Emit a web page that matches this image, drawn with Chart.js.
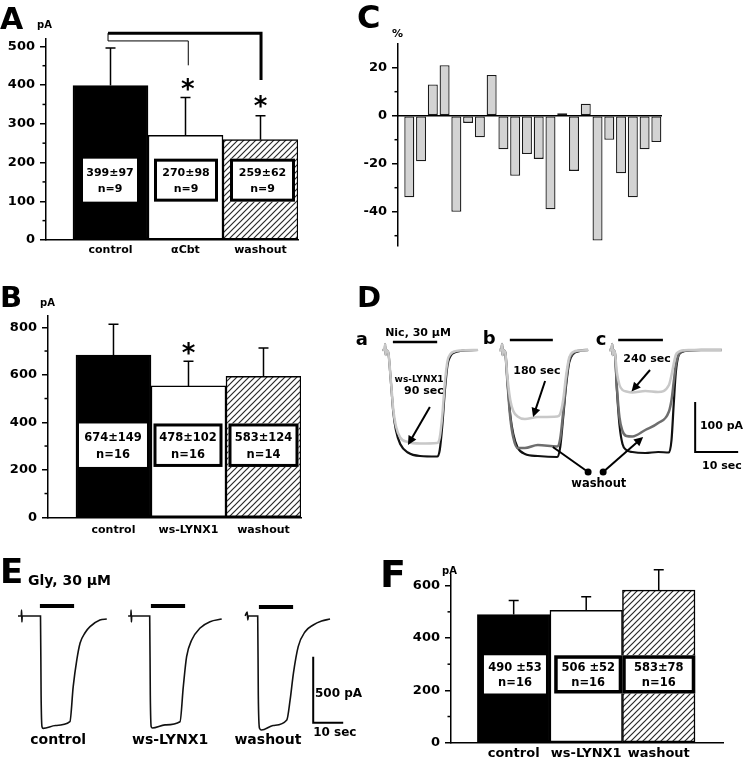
<!DOCTYPE html>
<html><head><meta charset="utf-8">
<script src="https://cdn.jsdelivr.net/npm/chart.js@4.4.1/dist/chart.umd.min.js"></script>
<style>
html,body{margin:0;padding:0;background:#fff;}
#fig{position:relative;width:745px;height:761px;overflow:hidden;background:#fff;}
canvas{position:absolute;}
.t{position:absolute;font-family:'DejaVu Sans',sans-serif;font-weight:bold;line-height:1;white-space:nowrap;color:#000;}
</style></head><body><div id="fig"></div>
<script>
// ---------------- DATA ----------------
// Panel A
const groupsA = ['control', 'αCbt', 'washout'];
const meansA = [399, 270, 259];
const errA = [97, 98, 62];
const boxTopA = ['399±97', '270±98', '259±62'];
const boxBotA = ['n=9', 'n=9', 'n=9'];
const ticksA = [0, 100, 200, 300, 400, 500];
const minorA = [50, 150, 250, 350, 450];

// Panel B
const groupsB = ['control', 'ws-LYNX1', 'washout'];
const meansB = [683, 553, 594];
const errB = [130, 104, 119];
const boxTopB = ['674±149', '478±102', '583±124'];
const boxBotB = ['n=16', 'n=16', 'n=14'];
const ticksB = [0, 200, 400, 600, 800];
const minorB = [100, 300, 500, 700];

// Panel C
const cellsC = [1,2,3,4,5,6,7,8,9,10,11,12,13,14,15,16,17,18,19,20,21,22];
const changeC = [-34, -19, 13, 21, -40, -3, -9, 17, -14, -25, -16, -18, -39, 1, -23, 5, -52, -10, -24, -34, -14, -11];
const ticksC = [20, 0, -20, -40];
const minorC = [10, -10, -30, -50];

// Panel F
const groupsF = ['control', 'ws-LYNX1', 'washout'];
const meansF = [490, 506, 583];
const errF = [53, 52, 78];
const boxTopF = ['490 ±53', '506 ±52', '583±78'];
const boxBotF = ['n=16', 'n=16', 'n=16'];
const ticksF = [0, 200, 400, 600];
const minorF = [100, 300, 500];

// Panel D traces (time, s ; current, pA)
const tDa = [9.8, 10.4, 10.5, 10.6, 10.7, 11.2, 11.8, 12.4, 13.0, 14.0, 15.8, 18.6, 22.6, 23.2, 23.8, 24.4, 25.0, 25.7, 26.6, 28.0, 32.1];
const iDaBlack = [0, 0, 12, -10, 0, -4, -60, -125, -160, -188, -205, -212, -213, -200, -150, -80, -30, -12, -5, -2, 0];
const iDaLight = [0, 0, 12, -10, 0, -4, -58, -120, -152, -175, -184, -187, -186, -175, -130, -65, -22, -8, -3, -1, 0];

const tDb = [37.0, 37.6, 37.7, 37.8, 37.9, 38.4, 39.0, 39.6, 40.3, 41.3, 43.0, 46.0, 50.5, 51.2, 51.9, 52.6, 53.3, 54.2, 55.8, 57.7];
const iDbBlack = [0, 0, 12, -10, 0, -4, -70, -130, -168, -195, -208, -212, -214, -195, -135, -70, -25, -8, -2, 0];
const iDbDark = [0, 0, 12, -10, 0, -4, -72, -135, -175, -196, -196, -190, -193, -178, -125, -62, -20, -6, -1, 0];
const iDbLight = [0, 0, 12, -10, 0, -4, -60, -100, -122, -133, -138, -134, -133, -128, -100, -50, -15, -4, -1, 0];

const tDc = [62.6, 63.2, 63.3, 63.4, 63.5, 63.9, 64.4, 65.0, 65.7, 66.6, 68.0, 71.0, 74.0, 76.5, 77.1, 77.6, 78.1, 78.7, 79.5, 81.0, 84.0, 88.8];
const iDcBlack = [0, 0, 12, -10, 0, -4, -80, -150, -188, -200, -204, -206, -204, -205, -180, -110, -45, -12, -4, -1, 0, 0];
const iDcDark = [0, 0, 12, -10, 0, -4, -75, -135, -162, -172, -173, -160, -146, -123, -100, -65, -30, -10, -3, -1, 0, 0];
const iDcLight = [0, 0, 12, -10, 0, -4, -45, -70, -80, -83, -85, -82, -84, -70, -50, -28, -10, -4, -1, 0, 0, 0];

// Panel E traces (time, s ; current, pA)
const tE1 = [6.0, 7.1, 7.2, 7.3, 7.4, 13.5, 13.7, 14.0, 14.4, 18.5, 23.3, 24.4, 25.6, 26.7, 28.3, 30.0, 33.3, 35.6];
const iE1 = [0, 0, 45, -45, 0, 0, -600, -839, -851, -830, -801, -535, -333, -205, -129, -81, -30, -23];
const tE2 = [42.7, 43.6, 43.7, 43.8, 43.9, 49.9, 50.1, 50.4, 50.8, 55.0, 60.0, 61.1, 62.2, 63.9, 66.7, 70.0, 73.9];
const iE2 = [0, 0, 45, -45, 0, 0, -600, -839, -848, -825, -801, -535, -308, -182, -91, -43, -23];
const tE3 = [81.7, 82.4, 82.6, 82.8, 85.9, 86.1, 86.5, 87.2, 91.0, 95.6, 96.7, 97.8, 99.4, 101.7, 104.4, 107.2, 110.0];
const iE3 = [0, 30, -30, 0, 0, -600, -850, -864, -830, -788, -636, -434, -232, -119, -68, -38, -23];

// ---------------- HELPERS ----------------
const FONT = "'DejaVu Sans', 'Liberation Sans', sans-serif";
const fig = document.getElementById('fig');

function makeCanvas(left, top, w, h) {
  const c = document.createElement('canvas');
  c.width = w; c.height = h;
  c.style.left = left + 'px'; c.style.top = top + 'px';
  c.style.width = w + 'px'; c.style.height = h + 'px';
  fig.appendChild(c);
  return c;
}
function label(text, x, baseline, size, align) {
  const d = document.createElement('div');
  d.className = 't';
  d.textContent = text;
  d.style.fontSize = size + 'px';
  d.style.top = (baseline - 0.846 * size) + 'px';
  d.style.left = x + 'px';
  if (align === 'center') d.style.transform = 'translateX(-50%)';
  fig.appendChild(d);
}
function hatchPattern() {
  const p = document.createElement('canvas'); p.width = 6; p.height = 6;
  const g = p.getContext('2d');
  g.fillStyle = '#fff'; g.fillRect(0, 0, 6, 6);
  g.strokeStyle = '#2a2a2a'; g.lineWidth = 1.2;
  g.beginPath();
  g.moveTo(0, 6); g.lineTo(6, 0);
  g.moveTo(-3, 3); g.lineTo(3, -3);
  g.moveTo(3, 9); g.lineTo(9, 3);
  g.stroke();
  return g.createPattern(p, 'repeat');
}
const HATCH = hatchPattern();

function extrasPlugin(o) {
  return {
    id: 'extras',
    afterDraw(chart) {
      const ctx = chart.ctx, X = chart.scales.x, Y = chart.scales.y;
      const px = v => X.getPixelForValue(v), py = v => Y.getPixelForValue(v);
      const area = chart.chartArea;
      ctx.save();
      ctx.strokeStyle = '#000'; ctx.fillStyle = '#000';
      ctx.lineWidth = 1.5;
      (o.minor || []).forEach(v => {
        const y = py(v);
        ctx.beginPath(); ctx.moveTo(area.left - 3.5, y); ctx.lineTo(area.left, y); ctx.stroke();
      });
      if (o.zeroLine) {
        ctx.lineWidth = 1.5;
        ctx.beginPath(); ctx.moveTo(area.left, py(0)); ctx.lineTo(area.right, py(0)); ctx.stroke();
      }
      const meta = chart.getDatasetMeta(0);
      if (o.err) {
        ctx.lineWidth = 1.5;
        meta.data.forEach((el, i) => {
          const top = py(o.values[i] + o.err[i]);
          ctx.beginPath();
          ctx.moveTo(el.x, el.y); ctx.lineTo(el.x, top);
          ctx.moveTo(el.x - 5, top); ctx.lineTo(el.x + 5, top);
          ctx.stroke();
        });
      }
      if (o.boxTop) {
        meta.data.forEach((el, i) => {
          const cx = el.x + o.boxDx[i], w = o.boxW[i];
          const y1 = py(o.boxHi), y2 = py(o.boxLo);
          ctx.fillStyle = '#fff';
          ctx.fillRect(cx - w / 2, y1, w, y2 - y1);
          if (o.boxBorder[i] > 0) {
            const b = o.boxBorder[i];
            ctx.lineWidth = b; ctx.strokeStyle = '#000';
            ctx.strokeRect(cx - w / 2 + b / 2, y1 + b / 2, w - b, y2 - y1 - b);
          }
          ctx.fillStyle = '#000';
          ctx.font = 'bold ' + o.boxFont + 'px ' + FONT;
          ctx.textAlign = 'center'; ctx.textBaseline = 'middle';
          ctx.fillText(o.boxTop[i], cx, y1 + (y2 - y1) * 0.33);
          ctx.fillText(o.boxBot[i], cx, y1 + (y2 - y1) * 0.72);
        });
      }
      (o.brackets || []).forEach(br => {
        ctx.lineWidth = br.lw; ctx.strokeStyle = '#000';
        ctx.beginPath();
        br.pts.forEach((p, k) => { if (k === 0) ctx.moveTo(px(p[0]), py(p[1])); else ctx.lineTo(px(p[0]), py(p[1])); });
        ctx.stroke();
      });
      (o.stars || []).forEach(s => {
        ctx.fillStyle = '#000';
        ctx.font = 'bold 26px ' + FONT;
        ctx.textAlign = 'center'; ctx.textBaseline = 'alphabetic';
        ctx.fillText('*', px(s[0]), py(s[1]) + 0.575 * 26);
      });
      ctx.restore();
    }
  };
}

function barPanel(o) {
  const c = makeCanvas(o.left, o.top, o.w, o.h);
  return new Chart(c, {
    type: 'bar',
    data: {
      datasets: [{
        data: o.values.map((v, i) => ({ x: o.xs[i], y: v })),
        backgroundColor: o.colors,
        borderColor: o.borderColor || '#000',
        borderWidth: o.bw,
        borderSkipped: false,
        barPercentage: o.barPct,
        categoryPercentage: 1
      }]
    },
    options: {
      responsive: false, animation: false, events: [], devicePixelRatio: 1,
      layout: { padding: { top: o.padTop, right: o.padRight, bottom: o.padBottom || 0, left: 0 } },
      plugins: { legend: { display: false }, tooltip: { enabled: false } },
      scales: {
        x: {
          type: 'linear', min: o.xMin, max: o.xMax, display: o.xDisplay, offset: false,
          afterBuildTicks: s => { s.ticks = o.xs.map(v => ({ value: v })); },
          afterFit: s => { s.height = o.xAxisH; },
          grid: { display: true, drawOnChartArea: false, drawTicks: false, offset: false },
          border: { display: true, color: '#000', width: 1.5 },
          ticks: {
            callback: (v, idx) => o.xLabels ? o.xLabels[idx] : '',
            font: { family: FONT, weight: 'bold', size: o.xFont || 11 },
            color: '#000', padding: o.xPad || 4, maxRotation: 0, minRotation: 0, autoSkip: false
          }
        },
        y: {
          type: 'linear', min: o.yMin, max: o.yMax,
          afterBuildTicks: s => { s.ticks = o.yTicks.map(v => ({ value: v })); },
          afterFit: s => { s.width = o.axisW; },
          grid: { display: true, drawOnChartArea: false, drawTicks: true, tickLength: 6, color: '#000', lineWidth: 1.5 },
          border: { display: true, color: '#000', width: 1.5 },
          ticks: { font: { family: FONT, weight: 'bold', size: 13 }, color: '#000', padding: 5 }
        }
      }
    },
    plugins: [extrasPlugin(o.extras)]
  });
}

function notesPlugin(n) {
  return {
    id: 'notes',
    afterDatasetsDraw(chart) {
      const ctx = chart.ctx, X = chart.scales.x, Y = chart.scales.y;
      const px = v => X.getPixelForValue(v), py = v => Y.getPixelForValue(v);
      ctx.save();
      ctx.strokeStyle = '#000'; ctx.fillStyle = '#000'; ctx.lineCap = 'butt';
      ctx.lineWidth = n.barW;
      n.bars.forEach(([a, b, y]) => { ctx.beginPath(); ctx.moveTo(px(a), py(y)); ctx.lineTo(px(b), py(y)); ctx.stroke(); });
      const [sx, sy1, sy2, sx2] = n.scale;
      ctx.lineWidth = 2;
      ctx.beginPath(); ctx.moveTo(px(sx), py(sy1)); ctx.lineTo(px(sx), py(sy2)); ctx.lineTo(px(sx2), py(sy2)); ctx.stroke();
      (n.lines || []).forEach(([x1, y1, x2, y2]) => {
        ctx.lineWidth = 2; ctx.beginPath(); ctx.moveTo(px(x1), py(y1)); ctx.lineTo(px(x2), py(y2)); ctx.stroke();
      });
      (n.arrows || []).forEach(([x1, y1, x2, y2]) => {
        const a = px(x1), b = py(y1), c = px(x2), d = py(y2);
        const ang = Math.atan2(d - b, c - a), L = 9, W = 4.5;
        ctx.lineWidth = 2;
        ctx.beginPath(); ctx.moveTo(a, b); ctx.lineTo(c - L * 0.6 * Math.cos(ang), d - L * 0.6 * Math.sin(ang)); ctx.stroke();
        ctx.beginPath();
        ctx.moveTo(c, d);
        ctx.lineTo(c - L * Math.cos(ang) + W * Math.sin(ang), d - L * Math.sin(ang) - W * Math.cos(ang));
        ctx.lineTo(c - L * Math.cos(ang) - W * Math.sin(ang), d - L * Math.sin(ang) + W * Math.cos(ang));
        ctx.closePath(); ctx.fill();
      });
      (n.dots || []).forEach(([x, y]) => { ctx.beginPath(); ctx.arc(px(x), py(y), 3.5, 0, Math.PI * 2); ctx.fill(); });
      (n.texts || []).forEach(([s, x, y, size, align]) => {
        ctx.font = 'bold ' + size + 'px ' + FONT;
        ctx.textAlign = align; ctx.textBaseline = 'middle';
        ctx.fillText(s, px(x), py(y));
      });
      ctx.restore();
    }
  };
}

function traceChart(o) {
  const c = makeCanvas(o.left, o.top, o.w, o.h);
  return new Chart(c, {
    type: 'scatter',
    data: {
      datasets: o.sets.map(s => ({
        data: s.t.map((x, i) => ({ x: x, y: s.i[i] })),
        showLine: true, borderColor: s.color, borderWidth: s.lw, pointRadius: 0,
        cubicInterpolationMode: 'monotone', fill: false
      }))
    },
    options: {
      responsive: false, animation: false, events: [], devicePixelRatio: 1,
      layout: { padding: 0 },
      plugins: { legend: { display: false }, tooltip: { enabled: false } },
      scales: {
        x: { type: 'linear', display: false, min: o.xMin, max: o.xMax },
        y: { type: 'linear', display: false, min: o.yMin, max: o.yMax }
      }
    },
    plugins: [notesPlugin(o.notes)]
  });
}

// ---------------- PANEL A ----------------
barPanel({
  left: 0, top: 0, w: 310, h: 262, axisW: 46, padTop: 38.6, padRight: 12, xAxisH: 22,
  xMin: 0.14, xMax: 3.5, yMin: 0, yMax: 520, yTicks: ticksA,
  xs: [1, 2, 3], xLabels: groupsA, xFont: 11, xPad: 4, xDisplay: true,
  values: meansA, colors: ['#000', '#fff', HATCH], bw: 1.5, barPct: 1,
  extras: {
    minor: minorA, values: meansA, err: errA,
    boxTop: boxTopA, boxBot: boxBotA, boxLo: 99, boxHi: 210, boxW: [54, 64, 65], boxDx: [-0.5, 0.5, 2], boxBorder: [0, 3, 3], boxFont: 11,
    brackets: [
      { lw: 3, pts: [[0.967, 534], [3.007, 534], [3.007, 413]] },
      { lw: 1, pts: [[0.967, 534], [0.967, 514], [2.037, 514], [2.037, 451]] }
    ],
    stars: [[2.03, 405], [3.0, 361]]
  }
});

// ---------------- PANEL B ----------------
barPanel({
  left: 0, top: 290, w: 310, h: 255, axisW: 48, padTop: 25.4, padRight: 9, xAxisH: 27.7,
  xMin: 0.127, xMax: 3.5, yMin: 0, yMax: 850, yTicks: ticksB,
  xs: [1, 2, 3], xLabels: groupsB, xFont: 11, xPad: 6, xDisplay: true,
  values: meansB, colors: ['#000', '#fff', HATCH], bw: 1.5, barPct: 1,
  extras: {
    minor: minorB, values: meansB, err: errB,
    boxTop: boxTopB, boxBot: boxBotB, boxLo: 212, boxHi: 395, boxW: [68, 69, 70], boxDx: [-0.5, -0.5, 0], boxBorder: [0, 3, 3], boxFont: 11.5,
    stars: [[2.0, 717]]
  }
});

// ---------------- PANEL C ----------------
barPanel({
  left: 330, top: 20, w: 345, h: 240, axisW: 68, padTop: 23.7, padRight: 13, padBottom: 14.7, xAxisH: 0,
  xMin: 0.04, xMax: 22.48, yMin: -54, yMax: 30, yTicks: ticksC,
  xs: cellsC, xLabels: null, xDisplay: false,
  values: changeC, colors: '#d3d3d3', borderColor: '#1a1a1a', bw: 1.3, barPct: 0.85,
  extras: { minor: minorC, zeroLine: true }
});

// ---------------- PANEL F ----------------
barPanel({
  left: 380, top: 560, w: 355, h: 201, axisW: 71, padTop: 15.2, padRight: 12, xAxisH: 18.3,
  xMin: 0.136, xMax: 3.886, yMin: 0, yMax: 640, yTicks: ticksF,
  xs: [1, 2, 3], xLabels: groupsF, xFont: 13, xPad: 3, xDisplay: true,
  values: meansF, colors: ['#000', '#fff', HATCH], bw: 1.5, barPct: 1,
  extras: {
    minor: minorF, values: meansF, err: errF,
    boxTop: boxTopF, boxBot: boxBotF, boxLo: 188, boxHi: 334, boxW: [62, 68, 73], boxDx: [1.3, 2, 0], boxBorder: [0, 3.5, 3.5], boxFont: 11.5
  }
});

// ---------------- PANEL D ----------------
const LIGHT = '#c8c8c8', DARK = '#6e6e6e', BLK = '#111';
traceChart({
  left: 340, top: 280, w: 405, h: 240, xMin: 0, xMax: 94.19, yMin: -340, yMax: 140,
  sets: [
    { t: tDa, i: iDaLight, color: LIGHT, lw: 2.5 },
    { t: tDb, i: iDbLight, color: LIGHT, lw: 2.5 },
    { t: tDc, i: iDcLight, color: LIGHT, lw: 2.5 },
    { t: tDb, i: iDbDark, color: DARK, lw: 2.5 },
    { t: tDc, i: iDcDark, color: DARK, lw: 2.5 },
    { t: tDa, i: iDaBlack, color: BLK, lw: 2.2 },
    { t: tDb, i: iDbBlack, color: BLK, lw: 2.2 },
    { t: tDc, i: iDcBlack, color: BLK, lw: 2.2 }
  ],
  notes: {
    barW: 2.5,
    bars: [[12.3, 22.6, 16], [39.5, 49.5, 20], [64.7, 75.1, 20]],
    scale: [82.6, -104, -204, 92.6],
    lines: [[57.7, -244, 49.5, -194]],
    arrows: [[20.9, -114, 15.8, -190], [47.7, -62, 44.9, -134], [72.1, -40, 67.8, -83], [61.2, -244, 70.5, -174]],
    dots: [[57.7, -244], [61.2, -244]],
    texts: [
      ['a', 5.1, 20, 18, 'center'],
      ['b', 34.7, 22, 18, 'center'],
      ['c', 60.7, 20, 18, 'center'],
      ['Nic, 30 µM', 10.5, 34, 11, 'left'],
      ['ws-LYNX1', 18.4, -59, 9, 'center'],
      ['90 sec', 19.5, -82, 11, 'center'],
      ['180 sec', 45.8, -42, 11, 'center'],
      ['240 sec', 71.4, -18, 11, 'center'],
      ['100 pA', 83.7, -152, 11, 'left'],
      ['10 sec', 84.2, -232, 11, 'left'],
      ['washout', 60.2, -268, 11.5, 'center']
    ]
  }
});

// ---------------- PANEL E ----------------
traceChart({
  left: 0, top: 560, w: 370, h: 201, xMin: 0, xMax: 123.33, yMin: -1098.5, yMax: 424.2,
  sets: [
    { t: tE1, i: iE1, color: BLK, lw: 1.6 },
    { t: tE2, i: iE2, color: BLK, lw: 1.6 },
    { t: tE3, i: iE3, color: BLK, lw: 1.6 }
  ],
  notes: {
    barW: 4,
    bars: [[13.3, 24.7, 76], [50.3, 61.7, 76], [86.3, 97.7, 68]],
    scale: [104.4, -308, -808, 114.4],
    texts: [
      ['Gly, 30 µM', 9.3, 265, 14, 'left'],
      ['500 pA', 105, -590, 12, 'left'],
      ['10 sec', 104.4, -886, 12, 'left'],
      ['control', 19.4, -939, 14, 'center'],
      ['ws-LYNX1', 56.7, -939, 14, 'center'],
      ['washout', 89.3, -939, 14, 'center']
    ]
  }
});

// ---------------- PANEL LETTERS & UNITS ----------------
label('A', 0, 29, 30);
label('B', 0, 308, 29);
label('C', 357, 28, 32);
label('D', 357, 308, 29);
label('E', 0, 583, 34);
label('F', 380, 587, 38);
label('pA', 37, 28, 10);
label('pA', 40, 306, 10);
label('%', 392, 37, 11);
label('pA', 442, 574, 10);
</script>
</body></html>
